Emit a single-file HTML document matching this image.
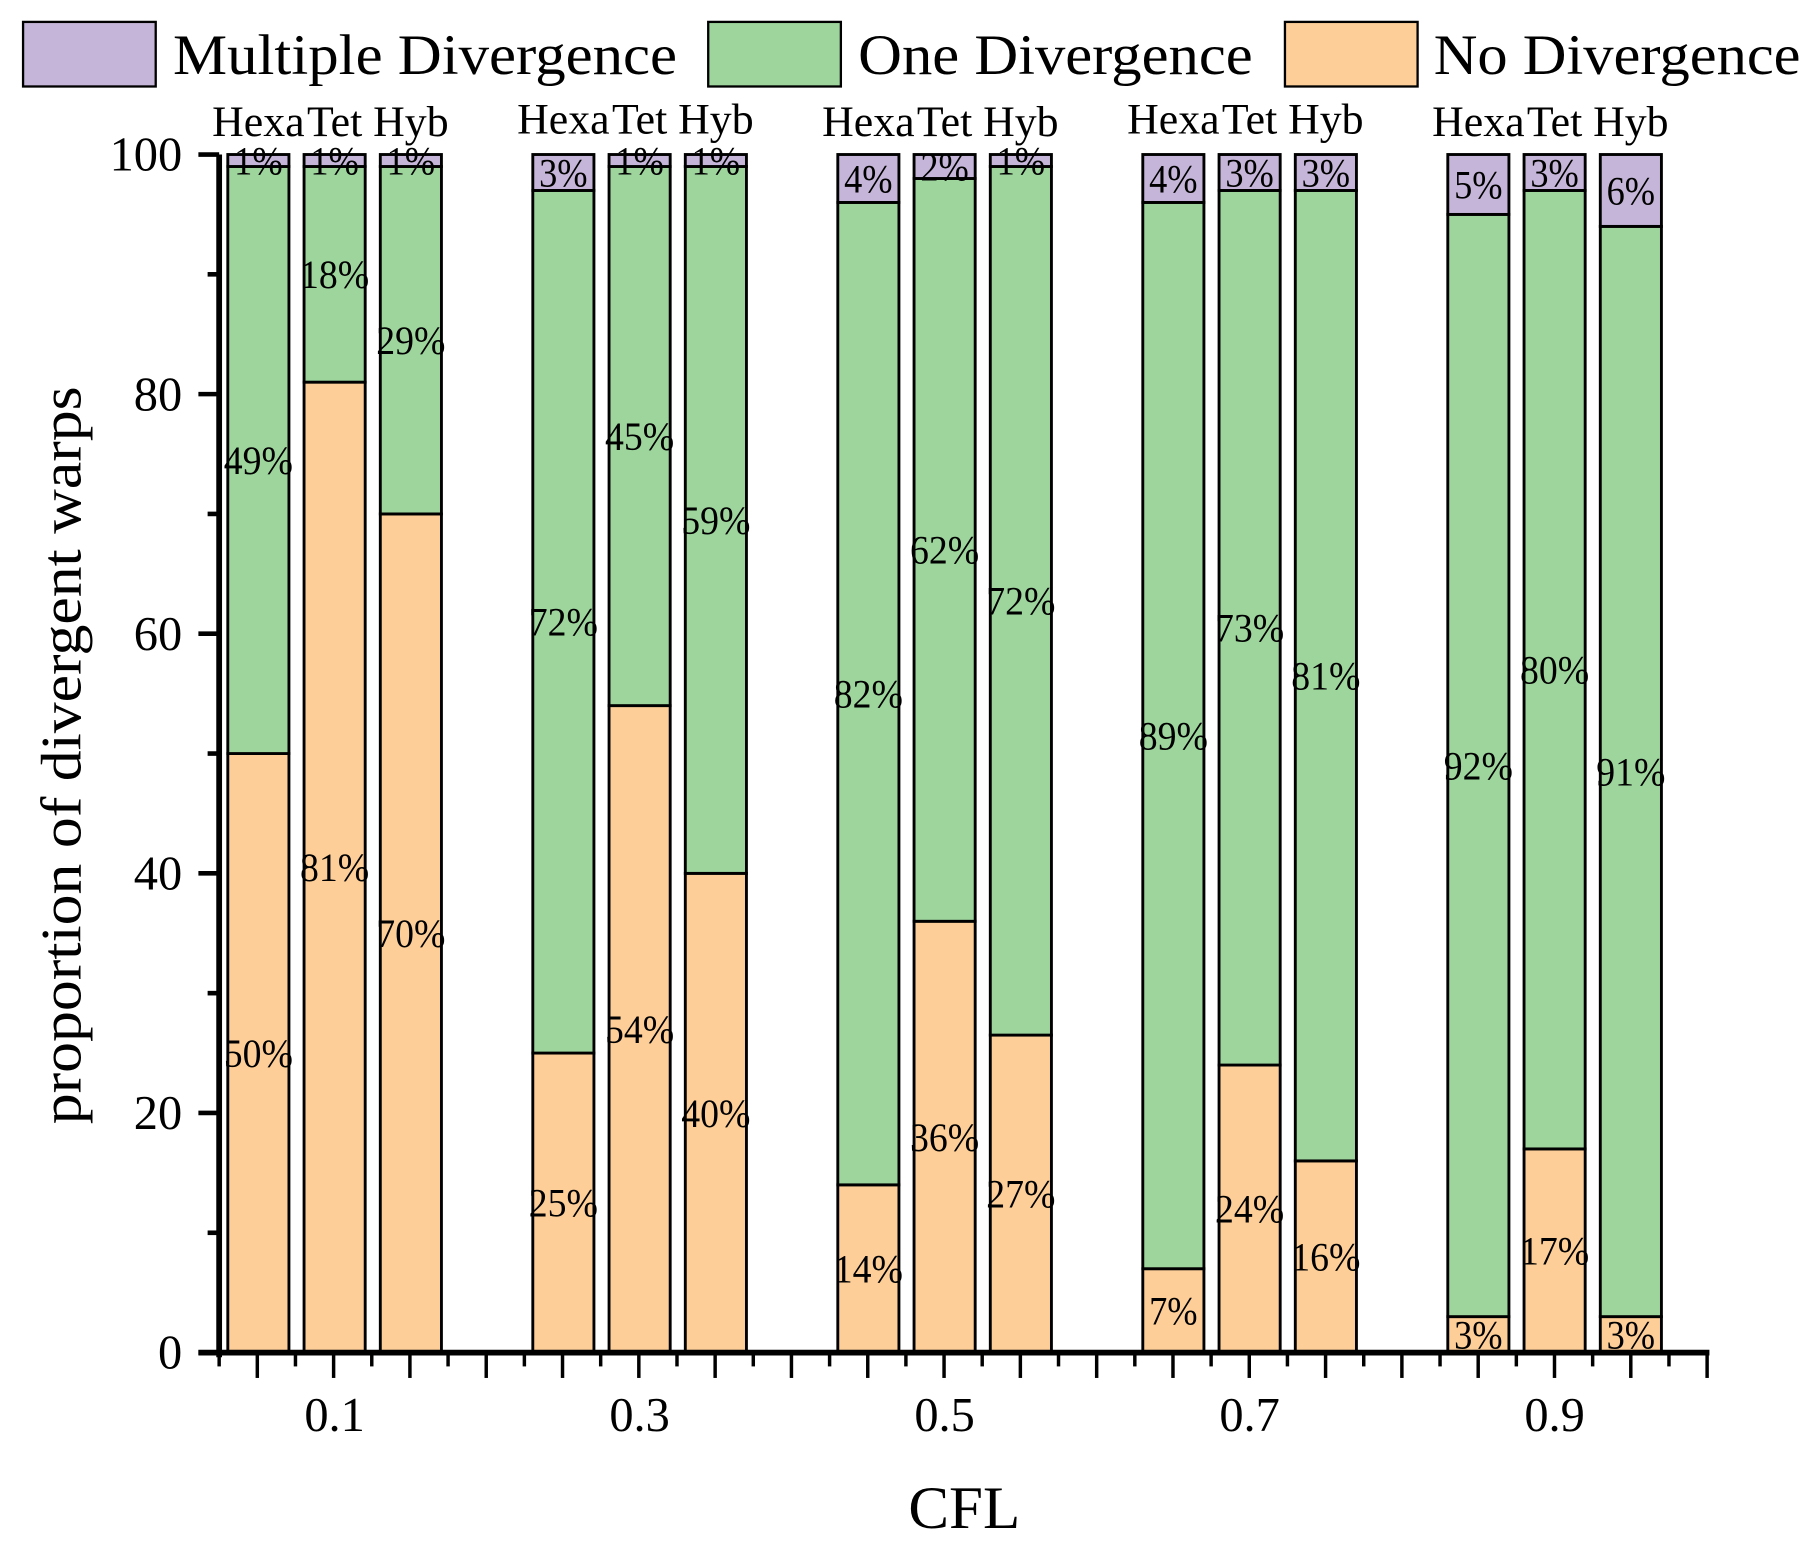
<!DOCTYPE html>
<html><head><meta charset="utf-8"><style>
html,body{margin:0;padding:0;background:#fff;}
svg{display:block;font-family:"Liberation Serif",serif;}
</style></head><body>
<svg id="chart" width="1804" height="1544" viewBox="0 0 1564 1339" preserveAspectRatio="none" xmlns="http://www.w3.org/2000/svg">
<g>
 <rect x="20" y="19" width="115" height="56" fill="#c5b5d8" stroke="#000" stroke-width="2"/>
 <text x="150" y="64" font-size="50" textLength="437" lengthAdjust="spacingAndGlyphs">Multiple Divergence</text>
 <rect x="614" y="19" width="115" height="56" fill="#9dd59d" stroke="#000" stroke-width="2"/>
 <text x="744" y="64" font-size="50" textLength="342" lengthAdjust="spacingAndGlyphs">One Divergence</text>
 <rect x="1114" y="19" width="115" height="56" fill="#fdce98" stroke="#000" stroke-width="2"/>
 <text x="1243" y="64" font-size="50" textLength="318" lengthAdjust="spacingAndGlyphs">No Divergence</text>
</g>
<g id="plot"></g>
<text transform="translate(70,655) rotate(-90)" text-anchor="middle" font-size="50" textLength="640" lengthAdjust="spacingAndGlyphs">proportion of divergent warps</text>
<text x="836" y="1325" text-anchor="middle" font-size="52" textLength="97" lengthAdjust="spacingAndGlyphs">CFL</text>
</svg>
<script>
const cfl = ["0.1","0.3","0.5","0.7","0.9"];
const meshes = ["Hexa","Tet","Hyb"];
const noDiv = [50,81,70, 25,54,40, 14,36,26.5, 7,24,16, 3,17,3];
const oneDiv = [49,18,29, 72,45,59, 82,62,72.5, 89,73,81, 92,80,91];
const multDiv = [1,1,1, 3,1,1, 4,2,1, 4,3,3, 5,3,6];
const noLbl = ["50%","81%","70%","25%","54%","40%","14%","36%","27%","7%","24%","16%","3%","17%","3%"];
const oneLbl = ["49%","18%","29%","72%","45%","59%","82%","62%","72%","89%","73%","81%","92%","80%","91%"];
const multLbl = ["1%","1%","1%","3%","1%","1%","4%","2%","1%","4%","3%","3%","5%","3%","6%"];
const yTicks = [0,20,40,60,80,100];

const NS="http://www.w3.org/2000/svg";
const g=document.getElementById('plot');
const x0=190,x1=1480,yBase=1173,yTop=134;
const y=v=>yBase-(v/100)*(yBase-yTop);
const slot=(1480-224)/19;
const xc=i=>224+(Math.floor(i/3)*4+i%3)*slot;
const bw=53;
function mk(tag,attrs){const e=document.createElementNS(NS,tag);for(const k in attrs)e.setAttribute(k,attrs[k]);g.appendChild(e);return e;}
const colors=["#fdce98","#9dd59d","#c5b5d8"];
const series=[noDiv,oneDiv,multDiv];
const lbls=[noLbl,oneLbl,multLbl];
const names=["no","one","multiple"];
for(let i=0;i<noDiv.length;i++){
  let acc=0;
  for(let s=0;s<3;s++){
    const v=series[s][i];
    const r=mk('rect',{x:xc(i)-bw/2,y:y(acc+v),width:bw,height:y(acc)-y(acc+v),fill:colors[s],stroke:'#000','stroke-width':2.5});
    
    
    const t=mk('text',{x:xc(i),y:y(acc+v/2)+12,'text-anchor':'middle','font-size':35,textLength:lbls[s][i].length>2?60:42,lengthAdjust:'spacingAndGlyphs'});
    t.textContent=lbls[s][i];
    
    
    acc+=v;
  }
  const c=mk('text',{x:xc(i),y:Math.floor(i/3)%2===0?118:116,'text-anchor':'middle','font-size':38});
  c.textContent=meshes[i%3];
  
  
}
const ax=mk('line',{x1:x0,y1:yTop,x2:x0,y2:yBase+4,stroke:'#000','stroke-width':5});


const bx=mk('line',{x1:172,y1:yBase,x2:x1+2,y2:yBase,stroke:'#000','stroke-width':5});


for(let v=0;v<=100;v+=10){
  const tk=mk('line',{x1:v%20===0?172:180,y1:y(v),x2:x0,y2:y(v),stroke:'#000','stroke-width':4});
  
  
}
yTicks.forEach(v=>{
  const t=mk('text',{x:158,y:y(v)+14,'text-anchor':'end','font-size':42});
  t.textContent=v;
  
  
});
for(let k=0;k<=39;k++){
  const xx=x0+k*(x1-x0)/39;
  const long=k%2===1||k===39;
  const tk=mk('line',{x1:xx,y1:yBase,x2:xx,y2:yBase+(long?22:12),stroke:'#000','stroke-width':3});
  
  
}
cfl.forEach((c,j)=>{
  const t=mk('text',{x:xc(j*3+1),y:1241,'text-anchor':'middle','font-size':42});
  t.textContent=c;
  
  
});
</script>
</body></html>
